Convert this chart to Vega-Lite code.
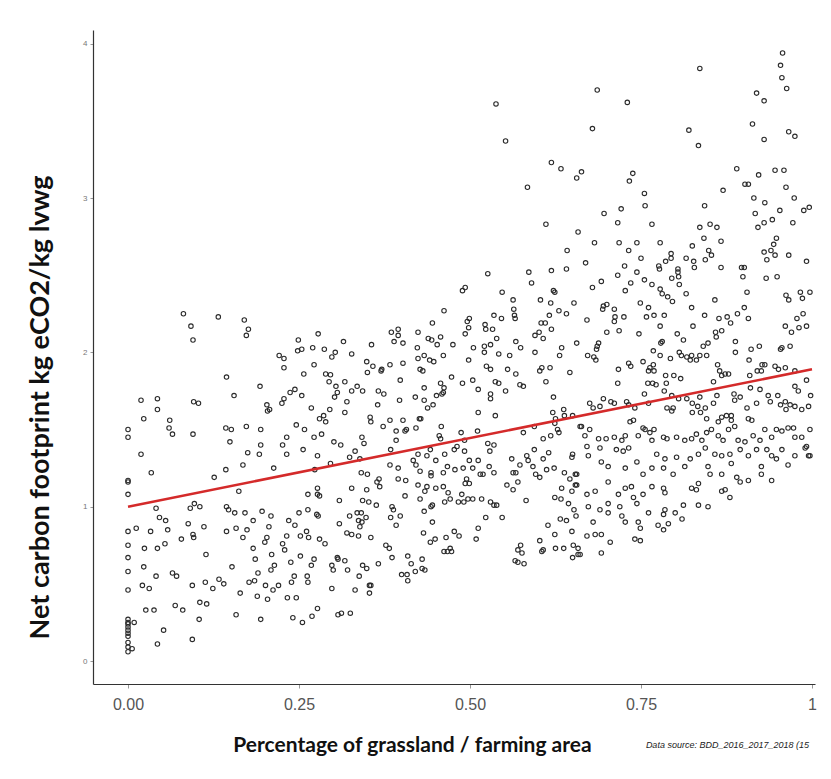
{
"$schema": "https://vega.github.io/schema/vega-lite/v6.json",
"width": 722, "height": 654,
"autosize": {"type": "none"},
"padding": {"left": 93, "top": 30, "right": 16, "bottom": 95},
"background": "white",
"config": {"view": {"stroke": null}, "axis": {"grid": false}},
"title": {"text": "Data source: BDD_2016_2017_2018 (15", "orient": "bottom", "anchor": "end", "frame": "group", "fontSize": 9, "fontStyle": "italic", "fontWeight": "normal", "font": "Liberation Sans", "color": "#222", "offset": -14, "dx": -6},
"datasets": {
"fit": [{"x": 0, "y": 1.0}, {"x": 1, "y": 1.89}],
"pts": [
{"x":0,"y":1.50},{"x":0,"y":1.45},{"x":0,"y":1.17},{"x":0,"y":1.16},{"x":0,"y":1.08},{"x":0,"y":0.84},{"x":0,"y":0.75},{"x":0,"y":0.67},{"x":0,"y":0.58},{"x":0,"y":0.46},{"x":0,"y":0.27},{"x":0,"y":0.25},{"x":0,"y":0.24},{"x":0,"y":0.22},{"x":0,"y":0.20},{"x":0,"y":0.18},{"x":0,"y":0.16},{"x":0,"y":0.09},{"x":0,"y":0.06},{"x":0,"y":0.12},
{"x":0.081,"y":2.25},{"x":0.132,"y":2.23},{"x":0.170,"y":2.21},{"x":0.092,"y":2.17},{"x":0.176,"y":2.15},{"x":0.095,"y":2.08},{"x":0.173,"y":2.11},{"x":0.278,"y":2.12},{"x":0.249,"y":2.08},{"x":0.248,"y":2.01},{"x":0.254,"y":2.02},{"x":0.270,"y":2.03},{"x":0.287,"y":2.02},{"x":0.303,"y":2.00},{"x":0.298,"y":1.97},{"x":0.221,"y":1.98},{"x":0.228,"y":1.96},{"x":0.228,"y":1.90},{"x":0.272,"y":1.92},{"x":0.257,"y":1.86},{"x":0.289,"y":1.86},{"x":0.296,"y":1.855},{"x":0.294,"y":1.81},{"x":0.304,"y":1.78},{"x":0.144,"y":1.84},{"x":0.193,"y":1.78},{"x":0.155,"y":1.72},{"x":0.244,"y":1.76},{"x":0.237,"y":1.74},{"x":0.254,"y":1.72},{"x":0.306,"y":1.74},{"x":0.302,"y":1.71},{"x":0.228,"y":1.70},{"x":0.225,"y":1.67},{"x":0.019,"y":1.69},{"x":0.043,"y":1.70},{"x":0.043,"y":1.63},{"x":0.096,"y":1.68},{"x":0.103,"y":1.67},{"x":0.203,"y":1.66},{"x":0.207,"y":1.63},{"x":0.204,"y":1.62},{"x":0.268,"y":1.64},{"x":0.295,"y":1.63},{"x":0.286,"y":1.59},{"x":0.280,"y":1.57},{"x":0.289,"y":1.55},{"x":0.023,"y":1.57},{"x":0.061,"y":1.56},{"x":0.060,"y":1.51},{"x":0.143,"y":1.51},{"x":0.151,"y":1.50},{"x":0.173,"y":1.52},{"x":0.194,"y":1.50},{"x":0.246,"y":1.53},{"x":0.258,"y":1.50},
{"x":0.065,"y":1.47},{"x":0.095,"y":1.47},{"x":0.149,"y":1.42},{"x":0.194,"y":1.40},{"x":0.192,"y":1.34},{"x":0.175,"y":1.35},{"x":0.168,"y":1.27},{"x":0.213,"y":1.25},{"x":0.143,"y":1.24},{"x":0.126,"y":1.19},{"x":0.162,"y":1.10},{"x":0.019,"y":1.34},{"x":0.034,"y":1.22},{"x":0.232,"y":1.45},{"x":0.226,"y":1.40},{"x":0.232,"y":1.34},{"x":0.272,"y":1.45},{"x":0.283,"y":1.47},{"x":0.256,"y":1.37},{"x":0.277,"y":1.33},{"x":0.301,"y":1.42},{"x":0.296,"y":1.28},{"x":0.273,"y":1.24},{"x":0.263,"y":1.08},{"x":0.277,"y":1.12},{"x":0.277,"y":1.08},{"x":0.280,"y":1.07},{"x":0.309,"y":1.04},{"x":0.041,"y":0.99},{"x":0.091,"y":0.99},{"x":0.097,"y":1.02},{"x":0.105,"y":1.00},{"x":0.144,"y":1.00},{"x":0.147,"y":0.98},{"x":0.156,"y":0.96},{"x":0.171,"y":0.96},{"x":0.183,"y":0.91},{"x":0.196,"y":0.97},{"x":0.209,"y":0.94},{"x":0.250,"y":0.96},{"x":0.263,"y":0.98},{"x":0.276,"y":0.95},{"x":0.278,"y":0.94},{"x":0.235,"y":0.91},{"x":0.244,"y":0.88},{"x":0.309,"y":0.89},{"x":0.012,"y":0.86},{"x":0.046,"y":0.93},{"x":0.055,"y":0.91},{"x":0.058,"y":0.85},{"x":0.033,"y":0.84},{"x":0.088,"y":0.89},{"x":0.111,"y":0.87},{"x":0.095,"y":0.82},{"x":0.096,"y":0.80},{"x":0.078,"y":0.79},{"x":0.144,"y":0.84},{"x":0.158,"y":0.86},{"x":0.168,"y":0.80},{"x":0.174,"y":0.85},{"x":0.183,"y":0.73},{"x":0.186,"y":0.66},{"x":0.190,"y":0.57},{"x":0.206,"y":0.87},{"x":0.203,"y":0.80},{"x":0.200,"y":0.77},{"x":0.210,"y":0.69},{"x":0.214,"y":0.62},{"x":0.209,"y":0.59},{"x":0.226,"y":0.76},{"x":0.232,"y":0.81},{"x":0.229,"y":0.72},{"x":0.252,"y":0.81},{"x":0.264,"y":0.80},{"x":0.261,"y":0.84},{"x":0.280,"y":0.79},{"x":0.288,"y":0.76},{"x":0.238,"y":0.64},{"x":0.252,"y":0.68},{"x":0.268,"y":0.62},{"x":0.272,"y":0.66},{"x":0.306,"y":0.67},{"x":0.298,"y":0.62},{"x":0.300,"y":0.59},{"x":0.024,"y":0.73},{"x":0.043,"y":0.73},{"x":0.054,"y":0.76},{"x":0.114,"y":0.69},{"x":0.023,"y":0.61},{"x":0.041,"y":0.55},{"x":0.065,"y":0.57},{"x":0.071,"y":0.55},{"x":0.021,"y":0.49},{"x":0.031,"y":0.47},{"x":0.094,"y":0.49},{"x":0.113,"y":0.51},{"x":0.124,"y":0.47},{"x":0.133,"y":0.53},{"x":0.140,"y":0.50},{"x":0.152,"y":0.61},{"x":0.164,"y":0.44},{"x":0.177,"y":0.51},{"x":0.185,"y":0.52},{"x":0.201,"y":0.49},{"x":0.212,"y":0.46},{"x":0.220,"y":0.49},{"x":0.189,"y":0.42},{"x":0.204,"y":0.40},{"x":0.233,"y":0.41},{"x":0.246,"y":0.41},{"x":0.262,"y":0.55},{"x":0.263,"y":0.51},{"x":0.243,"y":0.55},{"x":0.239,"y":0.51},{"x":0.298,"y":0.47},{"x":0.069,"y":0.36},{"x":0.080,"y":0.33},{"x":0.026,"y":0.33},{"x":0.038,"y":0.33},{"x":0.105,"y":0.38},{"x":0.115,"y":0.37},{"x":0.104,"y":0.27},{"x":0.158,"y":0.30},{"x":0.194,"y":0.27},{"x":0.241,"y":0.28},{"x":0.255,"y":0.25},{"x":0.269,"y":0.29},{"x":0.277,"y":0.34},{"x":0.307,"y":0.30},{"x":0.009,"y":0.25},{"x":0.052,"y":0.20},{"x":0.043,"y":0.11},{"x":0.094,"y":0.14},{"x":0.006,"y":0.08},
{"x":0.538,"y":3.61},{"x":0.552,"y":3.37},{"x":0.619,"y":3.23},{"x":0.633,"y":3.19},{"x":0.656,"y":3.13},{"x":0.584,"y":3.07},{"x":0.611,"y":2.83},{"x":0.658,"y":2.78},{"x":0.642,"y":2.66},{"x":0.586,"y":2.52},{"x":0.619,"y":2.53},{"x":0.641,"y":2.54},{"x":0.526,"y":2.51},{"x":0.590,"y":2.45},{"x":0.622,"y":2.40},{"x":0.624,"y":2.39},{"x":0.489,"y":2.40},{"x":0.493,"y":2.42},{"x":0.547,"y":2.39},{"x":0.563,"y":2.34},{"x":0.603,"y":2.34},{"x":0.618,"y":2.32},{"x":0.652,"y":2.32},{"x":0.564,"y":2.28},{"x":0.565,"y":2.24},{"x":0.566,"y":2.22},{"x":0.630,"y":2.27},{"x":0.641,"y":2.25},{"x":0.616,"y":2.24},{"x":0.462,"y":2.27},{"x":0.445,"y":2.19},{"x":0.496,"y":2.20},{"x":0.499,"y":2.22},{"x":0.498,"y":2.16},{"x":0.535,"y":2.24},{"x":0.546,"y":2.22},{"x":0.522,"y":2.18},{"x":0.523,"y":2.15},{"x":0.533,"y":2.15},{"x":0.604,"y":2.19},{"x":0.610,"y":2.19},{"x":0.619,"y":2.15},{"x":0.595,"y":2.11},{"x":0.601,"y":2.13},{"x":0.607,"y":2.09},{"x":0.385,"y":2.13},{"x":0.395,"y":2.15},{"x":0.395,"y":2.11},{"x":0.389,"y":2.07},{"x":0.402,"y":2.06},{"x":0.424,"y":2.13},{"x":0.423,"y":2.03},{"x":0.439,"y":2.09},{"x":0.444,"y":2.08},{"x":0.457,"y":2.10},{"x":0.452,"y":2.05},{"x":0.493,"y":2.12},{"x":0.475,"y":2.05},{"x":0.505,"y":2.03},{"x":0.521,"y":2.04},{"x":0.521,"y":2.00},{"x":0.530,"y":2.05},{"x":0.539,"y":2.09},{"x":0.567,"y":2.07},{"x":0.574,"y":2.03},{"x":0.634,"y":2.03},{"x":0.631,"y":1.98},{"x":0.656,"y":2.06},{"x":0.595,"y":2.00},{"x":0.315,"y":2.07},{"x":0.356,"y":2.05},{"x":0.327,"y":1.99},{"x":0.349,"y":1.94},{"x":0.358,"y":1.91},{"x":0.371,"y":1.89},{"x":0.383,"y":1.92},{"x":0.402,"y":1.93},{"x":0.424,"y":1.96},{"x":0.433,"y":1.98},{"x":0.441,"y":1.95},{"x":0.447,"y":1.94},{"x":0.461,"y":1.98},{"x":0.498,"y":1.95},{"x":0.542,"y":1.99},{"x":0.558,"y":1.98},{"x":0.524,"y":1.91},{"x":0.530,"y":1.89},{"x":0.555,"y":1.89},{"x":0.605,"y":1.90},{"x":0.617,"y":1.90},
{"x":0.350,"y":1.87},{"x":0.370,"y":1.88},{"x":0.427,"y":1.89},{"x":0.431,"y":1.88},{"x":0.473,"y":1.84},{"x":0.398,"y":1.82},{"x":0.457,"y":1.80},{"x":0.462,"y":1.77},{"x":0.461,"y":1.74},{"x":0.489,"y":1.80},{"x":0.504,"y":1.82},{"x":0.512,"y":1.76},{"x":0.537,"y":1.81},{"x":0.542,"y":1.80},{"x":0.567,"y":1.86},{"x":0.573,"y":1.79},{"x":0.578,"y":1.78},{"x":0.552,"y":1.75},{"x":0.602,"y":1.88},{"x":0.611,"y":1.81},{"x":0.646,"y":1.87},{"x":0.317,"y":1.81},{"x":0.327,"y":1.75},{"x":0.335,"y":1.78},{"x":0.343,"y":1.75},{"x":0.320,"y":1.68},{"x":0.317,"y":1.61},{"x":0.366,"y":1.75},{"x":0.374,"y":1.73},{"x":0.365,"y":1.66},{"x":0.397,"y":1.69},{"x":0.420,"y":1.71},{"x":0.433,"y":1.77},{"x":0.433,"y":1.69},{"x":0.438,"y":1.64},{"x":0.446,"y":1.66},{"x":0.451,"y":1.72},{"x":0.459,"y":1.73},{"x":0.354,"y":1.58},{"x":0.355,"y":1.55},{"x":0.373,"y":1.52},{"x":0.383,"y":1.56},{"x":0.392,"y":1.49},{"x":0.392,"y":1.43},{"x":0.402,"y":1.56},{"x":0.405,"y":1.49},{"x":0.407,"y":1.50},{"x":0.421,"y":1.51},{"x":0.426,"y":1.57},{"x":0.428,"y":1.57},{"x":0.458,"y":1.52},{"x":0.455,"y":1.46},{"x":0.457,"y":1.44},{"x":0.487,"y":1.48},{"x":0.492,"y":1.43},{"x":0.511,"y":1.49},{"x":0.512,"y":1.61},{"x":0.530,"y":1.73},{"x":0.530,"y":1.70},{"x":0.537,"y":1.59},{"x":0.526,"y":1.41},{"x":0.535,"y":1.40},{"x":0.529,"y":1.36},{"x":0.578,"y":1.48},{"x":0.594,"y":1.52},{"x":0.607,"y":1.44},{"x":0.618,"y":1.46},{"x":0.621,"y":1.61},{"x":0.625,"y":1.57},{"x":0.637,"y":1.63},{"x":0.638,"y":1.59},{"x":0.622,"y":1.71},{"x":0.624,"y":1.54},{"x":0.628,"y":1.50},{"x":0.630,"y":1.48},{"x":0.650,"y":1.59},{"x":0.661,"y":1.52},{"x":0.342,"y":1.45},{"x":0.345,"y":1.41},{"x":0.332,"y":1.36},{"x":0.324,"y":1.32},{"x":0.339,"y":1.31},{"x":0.311,"y":1.40},{"x":0.384,"y":1.37},{"x":0.383,"y":1.27},{"x":0.395,"y":1.25},{"x":0.417,"y":1.30},{"x":0.421,"y":1.27},{"x":0.424,"y":1.34},{"x":0.437,"y":1.33},{"x":0.442,"y":1.37},{"x":0.427,"y":1.23},{"x":0.443,"y":1.22},{"x":0.443,"y":1.20},{"x":0.450,"y":1.30},{"x":0.463,"y":1.34},{"x":0.477,"y":1.37},{"x":0.481,"y":1.39},{"x":0.492,"y":1.36},{"x":0.461,"y":1.22},{"x":0.467,"y":1.26},{"x":0.478,"y":1.24},{"x":0.490,"y":1.25},{"x":0.499,"y":1.30},{"x":0.504,"y":1.25},{"x":0.512,"y":1.30},{"x":0.528,"y":1.26},{"x":0.535,"y":1.22},{"x":0.515,"y":1.21},{"x":0.519,"y":1.21},{"x":0.495,"y":1.18},{"x":0.493,"y":1.15},{"x":0.499,"y":1.15},{"x":0.561,"y":1.31},{"x":0.573,"y":1.27},{"x":0.583,"y":1.33},{"x":0.585,"y":1.30},{"x":0.594,"y":1.37},{"x":0.592,"y":1.26},{"x":0.596,"y":1.21},{"x":0.602,"y":1.19},{"x":0.607,"y":1.31},{"x":0.612,"y":1.24},{"x":0.615,"y":1.35},{"x":0.623,"y":1.25},{"x":0.563,"y":1.22},{"x":0.567,"y":1.22},{"x":0.554,"y":1.14},{"x":0.563,"y":1.11},{"x":0.570,"y":1.16},{"x":0.582,"y":1.04},{"x":0.638,"y":1.22},{"x":0.646,"y":1.18},{"x":0.654,"y":1.21},{"x":0.649,"y":1.32},{"x":0.650,"y":1.34},{"x":0.634,"y":1.12},{"x":0.649,"y":1.10},{"x":0.654,"y":1.14},{"x":0.624,"y":1.06},{"x":0.633,"y":1.05},{"x":0.644,"y":1.02},{"x":0.652,"y":0.98},{"x":0.655,"y":0.94},{"x":0.632,"y":0.92},{"x":0.641,"y":0.91},{"x":0.614,"y":0.88},{"x":0.624,"y":0.82},{"x":0.625,"y":0.73},{"x":0.637,"y":0.73},{"x":0.649,"y":0.84},{"x":0.651,"y":0.75},{"x":0.650,"y":0.67},{"x":0.661,"y":0.69},{"x":0.602,"y":0.78},{"x":0.607,"y":0.72},{"x":0.605,"y":0.71},{"x":0.574,"y":0.75},{"x":0.570,"y":0.72},{"x":0.576,"y":0.70},{"x":0.566,"y":0.65},{"x":0.570,"y":0.64},{"x":0.579,"y":0.63},{"x":0.523,"y":0.93},{"x":0.530,"y":1.03},{"x":0.535,"y":1.01},{"x":0.539,"y":1.01},{"x":0.547,"y":0.93},{"x":0.512,"y":0.86},{"x":0.509,"y":0.79},{"x":0.488,"y":1.08},{"x":0.483,"y":1.03},{"x":0.491,"y":1.03},{"x":0.497,"y":1.05},{"x":0.504,"y":1.05},{"x":0.517,"y":1.05},{"x":0.477,"y":0.84},{"x":0.484,"y":0.81},{"x":0.465,"y":0.80},{"x":0.471,"y":0.73},{"x":0.473,"y":0.71},{"x":0.467,"y":0.71},{"x":0.462,"y":0.71},{"x":0.449,"y":0.79},{"x":0.442,"y":0.77},{"x":0.432,"y":0.83},{"x":0.445,"y":0.90},{"x":0.433,"y":0.97},{"x":0.443,"y":1.00},{"x":0.445,"y":1.01},{"x":0.463,"y":1.03},{"x":0.471,"y":1.05},{"x":0.424,"y":1.14},{"x":0.437,"y":1.13},{"x":0.450,"y":1.12},{"x":0.461,"y":1.13},{"x":0.468,"y":1.09},{"x":0.434,"y":1.10},{"x":0.427,"y":1.05},{"x":0.405,"y":1.07},{"x":0.395,"y":1.18},{"x":0.406,"y":1.17},{"x":0.367,"y":1.18},{"x":0.364,"y":1.16},{"x":0.368,"y":1.13},{"x":0.349,"y":1.11},{"x":0.343,"y":1.04},{"x":0.352,"y":1.03},{"x":0.341,"y":1.22},{"x":0.350,"y":1.21},{"x":0.327,"y":1.12},{"x":0.363,"y":1.01},{"x":0.386,"y":1.00},{"x":0.388,"y":0.98},{"x":0.398,"y":0.94},{"x":0.384,"y":0.93},{"x":0.392,"y":0.88},{"x":0.324,"y":0.94},{"x":0.335,"y":0.96},{"x":0.341,"y":0.96},{"x":0.337,"y":0.91},{"x":0.342,"y":0.90},{"x":0.348,"y":0.93},{"x":0.320,"y":0.83},{"x":0.327,"y":0.82},{"x":0.337,"y":0.81},{"x":0.339,"y":0.87},{"x":0.355,"y":0.80},{"x":0.377,"y":0.75},{"x":0.382,"y":0.73},{"x":0.386,"y":0.67},{"x":0.366,"y":0.63},{"x":0.343,"y":0.62},{"x":0.349,"y":0.60},{"x":0.307,"y":0.66},{"x":0.317,"y":0.65},{"x":0.321,"y":0.59},{"x":0.338,"y":0.55},{"x":0.353,"y":0.49},{"x":0.355,"y":0.49},{"x":0.353,"y":0.44},{"x":0.332,"y":0.46},{"x":0.312,"y":0.31},{"x":0.325,"y":0.31},{"x":0.409,"y":0.68},{"x":0.414,"y":0.63},{"x":0.420,"y":0.58},{"x":0.430,"y":0.66},{"x":0.430,"y":0.60},{"x":0.434,"y":0.59},{"x":0.400,"y":0.56},{"x":0.408,"y":0.56},{"x":0.409,"y":0.52},
{"x":0.957,"y":3.94},{"x":0.954,"y":3.86},{"x":0.956,"y":3.78},{"x":0.963,"y":3.71},{"x":0.836,"y":3.84},{"x":0.919,"y":3.68},{"x":0.930,"y":3.63},{"x":0.686,"y":3.70},{"x":0.730,"y":3.62},{"x":0.679,"y":3.45},{"x":0.820,"y":3.44},{"x":0.834,"y":3.34},{"x":0.913,"y":3.48},{"x":0.930,"y":3.38},{"x":0.966,"y":3.43},{"x":0.975,"y":3.40},{"x":0.890,"y":3.19},{"x":0.946,"y":3.18},{"x":0.959,"y":3.18},{"x":0.922,"y":3.15},{"x":0.962,"y":3.07},{"x":0.902,"y":3.09},{"x":0.907,"y":3.09},{"x":0.870,"y":3.05},{"x":0.915,"y":3.00},{"x":0.931,"y":2.97},{"x":0.974,"y":3.00},{"x":0.663,"y":3.17},{"x":0.733,"y":3.11},{"x":0.738,"y":3.16},{"x":0.755,"y":3.03},{"x":0.756,"y":2.95},{"x":0.843,"y":2.95},{"x":0.917,"y":2.90},{"x":0.921,"y":2.81},{"x":0.930,"y":2.84},{"x":0.942,"y":2.86},{"x":0.953,"y":2.92},{"x":0.972,"y":2.84},{"x":0.988,"y":2.92},{"x":0.996,"y":2.94},{"x":0.696,"y":2.90},{"x":0.721,"y":2.93},{"x":0.716,"y":2.84},{"x":0.766,"y":2.83},{"x":0.836,"y":2.81},{"x":0.851,"y":2.83},{"x":0.861,"y":2.81},{"x":0.842,"y":2.74},{"x":0.867,"y":2.72},{"x":0.825,"y":2.69},{"x":0.948,"y":2.74},{"x":0.944,"y":2.70},{"x":0.930,"y":2.65},{"x":0.940,"y":2.66},{"x":0.946,"y":2.63},{"x":0.934,"y":2.60},{"x":0.966,"y":2.63},{"x":0.992,"y":2.59},{"x":0.682,"y":2.71},{"x":0.718,"y":2.71},{"x":0.744,"y":2.71},{"x":0.732,"y":2.66},{"x":0.778,"y":2.71},{"x":0.669,"y":2.58},{"x":0.750,"y":2.61},{"x":0.776,"y":2.56},{"x":0.777,"y":2.54},{"x":0.786,"y":2.59},{"x":0.794,"y":2.64},{"x":0.794,"y":2.61},{"x":0.804,"y":2.54},{"x":0.816,"y":2.61},{"x":0.827,"y":2.59},{"x":0.828,"y":2.55},{"x":0.844,"y":2.60},{"x":0.849,"y":2.66},{"x":0.853,"y":2.63},{"x":0.867,"y":2.55},{"x":0.897,"y":2.55},{"x":0.901,"y":2.55},{"x":0.899,"y":2.49},{"x":0.905,"y":2.39},{"x":0.933,"y":2.48},{"x":0.949,"y":2.49},{"x":0.716,"y":2.50},{"x":0.726,"y":2.56},{"x":0.744,"y":2.52},{"x":0.755,"y":2.47},{"x":0.766,"y":2.44},{"x":0.679,"y":2.42},{"x":0.692,"y":2.46},{"x":0.735,"y":2.45},{"x":0.727,"y":2.40},{"x":0.778,"y":2.41},{"x":0.781,"y":2.38},{"x":0.789,"y":2.36},{"x":0.796,"y":2.33},{"x":0.804,"y":2.52},{"x":0.805,"y":2.49},{"x":0.806,"y":2.44},{"x":0.795,"y":2.48},{"x":0.816,"y":2.38},{"x":0.695,"y":2.30},{"x":0.700,"y":2.31},{"x":0.694,"y":2.28},{"x":0.711,"y":2.28},{"x":0.712,"y":2.23},{"x":0.711,"y":2.20},{"x":0.725,"y":2.23},{"x":0.718,"y":2.14},{"x":0.700,"y":2.13},{"x":0.671,"y":2.21},{"x":0.749,"y":2.32},{"x":0.761,"y":2.29},{"x":0.758,"y":2.23},{"x":0.769,"y":2.24},{"x":0.784,"y":2.24},{"x":0.778,"y":2.17},{"x":0.747,"y":2.12},{"x":0.824,"y":2.29},{"x":0.826,"y":2.17},{"x":0.843,"y":2.24},{"x":0.858,"y":2.34},{"x":0.864,"y":2.22},{"x":0.876,"y":2.23},{"x":0.881,"y":2.19},{"x":0.891,"y":2.25},{"x":0.901,"y":2.29},{"x":0.907,"y":2.22},{"x":0.962,"y":2.37},{"x":0.966,"y":2.34},{"x":0.983,"y":2.39},{"x":0.986,"y":2.35},{"x":0.997,"y":2.39},{"x":0.987,"y":2.25},{"x":0.978,"y":2.22},{"x":0.961,"y":2.17},{"x":0.970,"y":2.13},{"x":0.981,"y":2.16},{"x":0.992,"y":2.17},{"x":0.859,"y":2.13},{"x":0.868,"y":2.14},{"x":0.860,"y":2.10},{"x":0.888,"y":2.07},{"x":0.803,"y":2.12},{"x":0.812,"y":2.08},{"x":0.779,"y":2.06},{"x":0.781,"y":2.07},{"x":0.841,"y":2.04},{"x":0.848,"y":2.06},{"x":0.911,"y":2.02},{"x":0.923,"y":2.04},{"x":0.956,"y":2.03},{"x":0.968,"y":2.04},{"x":0.686,"y":2.04},{"x":0.688,"y":2.06},
{"x":0.685,"y":2.02},{"x":0.684,"y":1.95},{"x":0.681,"y":1.97},{"x":0.672,"y":1.98},{"x":0.717,"y":1.89},{"x":0.716,"y":1.80},{"x":0.732,"y":1.93},{"x":0.735,"y":1.91},{"x":0.753,"y":1.94},{"x":0.761,"y":1.88},{"x":0.763,"y":1.90},{"x":0.769,"y":1.88},{"x":0.768,"y":1.92},{"x":0.760,"y":1.80},{"x":0.767,"y":1.80},{"x":0.772,"y":1.79},{"x":0.786,"y":1.85},{"x":0.787,"y":1.80},{"x":0.798,"y":1.85},{"x":0.808,"y":1.83},{"x":0.768,"y":2.01},{"x":0.778,"y":1.98},{"x":0.793,"y":1.96},{"x":0.806,"y":2.00},{"x":0.809,"y":1.98},{"x":0.817,"y":1.97},{"x":0.824,"y":1.98},{"x":0.822,"y":1.95},{"x":0.831,"y":1.95},{"x":0.836,"y":1.98},{"x":0.846,"y":1.98},{"x":0.862,"y":1.92},{"x":0.865,"y":1.88},{"x":0.873,"y":1.86},{"x":0.878,"y":1.86},{"x":0.888,"y":2.00},{"x":0.908,"y":1.95},{"x":0.926,"y":1.88},{"x":0.920,"y":1.88},{"x":0.927,"y":1.92},{"x":0.931,"y":1.92},{"x":0.946,"y":1.91},{"x":0.951,"y":1.89},{"x":0.961,"y":1.90},{"x":0.954,"y":2.02},{"x":0.975,"y":1.88},{"x":0.909,"y":1.85},
{"x":0.675,"y":1.67},{"x":0.680,"y":1.64},{"x":0.690,"y":1.65},{"x":0.695,"y":1.70},{"x":0.706,"y":1.68},{"x":0.711,"y":1.67},{"x":0.729,"y":1.68},{"x":0.732,"y":1.66},{"x":0.741,"y":1.64},{"x":0.755,"y":1.73},{"x":0.761,"y":1.67},{"x":0.784,"y":1.75},{"x":0.795,"y":1.72},{"x":0.805,"y":1.70},{"x":0.788,"y":1.64},{"x":0.797,"y":1.64},{"x":0.795,"y":1.62},{"x":0.817,"y":1.70},{"x":0.825,"y":1.67},{"x":0.836,"y":1.71},{"x":0.833,"y":1.65},{"x":0.844,"y":1.64},{"x":0.837,"y":1.61},{"x":0.846,"y":1.57},{"x":0.825,"y":1.61},{"x":0.856,"y":1.67},{"x":0.856,"y":1.81},{"x":0.861,"y":1.72},{"x":0.868,"y":1.85},{"x":0.886,"y":1.73},{"x":0.887,"y":1.69},{"x":0.895,"y":1.71},{"x":0.910,"y":1.77},{"x":0.924,"y":1.76},{"x":0.936,"y":1.72},{"x":0.939,"y":1.68},{"x":0.919,"y":1.67},{"x":0.905,"y":1.64},{"x":0.950,"y":1.72},{"x":0.954,"y":1.66},{"x":0.962,"y":1.63},{"x":0.975,"y":1.65},{"x":0.985,"y":1.63},{"x":0.995,"y":1.65},{"x":0.998,"y":1.72},{"x":0.992,"y":1.82},{"x":0.975,"y":1.78},{"x":0.980,"y":1.75},{"x":0.961,"y":1.68},{"x":0.968,"y":1.66},{"x":0.907,"y":1.57},{"x":0.912,"y":1.56},{"x":0.882,"y":1.56},{"x":0.882,"y":1.59},{"x":0.875,"y":1.59},{"x":0.868,"y":1.58},{"x":0.863,"y":1.55},
{"x":0.663,"y":1.52},{"x":0.668,"y":1.46},{"x":0.675,"y":1.50},{"x":0.688,"y":1.44},{"x":0.699,"y":1.44},{"x":0.711,"y":1.45},{"x":0.722,"y":1.43},{"x":0.727,"y":1.46},{"x":0.734,"y":1.55},{"x":0.739,"y":1.56},{"x":0.746,"y":1.46},{"x":0.753,"y":1.51},{"x":0.756,"y":1.50},{"x":0.763,"y":1.48},{"x":0.766,"y":1.43},{"x":0.769,"y":1.50},{"x":0.783,"y":1.45},{"x":0.788,"y":1.44},{"x":0.802,"y":1.45},{"x":0.814,"y":1.43},{"x":0.824,"y":1.44},{"x":0.831,"y":1.47},{"x":0.839,"y":1.43},{"x":0.846,"y":1.48},{"x":0.853,"y":1.50},{"x":0.863,"y":1.46},{"x":0.870,"y":1.43},{"x":0.878,"y":1.50},{"x":0.887,"y":1.52},{"x":0.892,"y":1.43},{"x":0.902,"y":1.42},{"x":0.914,"y":1.46},{"x":0.924,"y":1.43},{"x":0.931,"y":1.50},{"x":0.941,"y":1.45},{"x":0.948,"y":1.50},{"x":0.956,"y":1.49},{"x":0.965,"y":1.51},{"x":0.973,"y":1.51},{"x":0.975,"y":1.45},{"x":0.985,"y":1.45},{"x":0.997,"y":1.50},{"x":0.992,"y":1.39},{"x":0.995,"y":1.33},
{"x":0.671,"y":1.39},{"x":0.673,"y":1.33},{"x":0.690,"y":1.38},{"x":0.692,"y":1.29},{"x":0.702,"y":1.26},{"x":0.714,"y":1.37},{"x":0.724,"y":1.36},{"x":0.727,"y":1.25},{"x":0.732,"y":1.38},{"x":0.744,"y":1.29},{"x":0.753,"y":1.21},{"x":0.766,"y":1.25},{"x":0.773,"y":1.34},{"x":0.783,"y":1.25},{"x":0.785,"y":1.31},{"x":0.797,"y":1.21},{"x":0.802,"y":1.32},{"x":0.814,"y":1.26},{"x":0.822,"y":1.31},{"x":0.834,"y":1.34},{"x":0.844,"y":1.38},{"x":0.848,"y":1.26},{"x":0.858,"y":1.34},{"x":0.868,"y":1.33},{"x":0.880,"y":1.34},{"x":0.882,"y":1.28},{"x":0.890,"y":1.19},{"x":0.895,"y":1.37},{"x":0.907,"y":1.33},{"x":0.919,"y":1.37},{"x":0.926,"y":1.26},{"x":0.934,"y":1.37},{"x":0.941,"y":1.33},{"x":0.948,"y":1.31},{"x":0.956,"y":1.37},{"x":0.965,"y":1.27},{"x":0.975,"y":1.33},{"x":0.990,"y":1.38},{"x":0.997,"y":1.33},{"x":0.926,"y":1.21},{"x":0.941,"y":1.17},{"x":0.907,"y":1.17},{"x":0.895,"y":1.16},{"x":0.868,"y":1.21},{"x":0.851,"y":1.21},
{"x":0.656,"y":1.21},{"x":0.656,"y":1.14},{"x":0.671,"y":1.08},{"x":0.683,"y":1.10},{"x":0.702,"y":1.16},{"x":0.717,"y":1.08},{"x":0.727,"y":1.12},{"x":0.736,"y":1.13},{"x":0.744,"y":1.02},{"x":0.739,"y":1.06},{"x":0.753,"y":1.08},{"x":0.673,"y":1.00},{"x":0.680,"y":0.90},{"x":0.690,"y":0.98},{"x":0.702,"y":1.02},{"x":0.702,"y":0.96},{"x":0.719,"y":1.00},{"x":0.722,"y":0.94},{"x":0.727,"y":0.90},{"x":0.746,"y":0.90},{"x":0.749,"y":0.86},{"x":0.761,"y":0.96},{"x":0.766,"y":1.13},{"x":0.783,"y":1.12},{"x":0.785,"y":1.09},{"x":0.785,"y":0.98},{"x":0.783,"y":0.95},{"x":0.800,"y":0.96},{"x":0.810,"y":0.92},{"x":0.812,"y":1.01},{"x":0.775,"y":0.88},{"x":0.790,"y":0.89},{"x":0.824,"y":1.12},{"x":0.834,"y":1.15},{"x":0.831,"y":1.11},{"x":0.834,"y":1.01},{"x":0.848,"y":1.00},{"x":0.868,"y":1.10},{"x":0.873,"y":1.11},{"x":0.880,"y":1.06},{"x":0.671,"y":0.81},{"x":0.683,"y":0.82},{"x":0.692,"y":0.82},{"x":0.705,"y":0.77},{"x":0.741,"y":0.79},{"x":0.749,"y":0.78},{"x":0.658,"y":0.73},{"x":0.658,"y":0.69},{"x":0.692,"y":0.70},{"x":0.783,"y":0.85}
]},
"layer": [
{"data": {"name": "pts"},
 "mark": {"type": "point", "shape": "circle", "filled": false, "size": 20, "strokeWidth": 1.1, "color": "#2b2b2b", "opacity": 1},
 "encoding": {
  "x": {"field": "x", "type": "quantitative",
   "scale": {"domain": [-0.0512, 1.0044], "nice": false, "zero": false},
   "axis": {"title": "Percentage of grassland / farming area", "values": [0, 0.25, 0.5, 0.75, 1],
    "labelExpr": "datum.value == 1 ? '1' : format(datum.value, '.2f')",
    "labelFontSize": 16, "labelColor": "#555", "labelFont": "Liberation Sans", "labelPadding": 8,
    "tickSize": 4, "tickColor": "#999", "domainColor": "#333", "domainWidth": 1.2,
    "titleFontSize": 21, "titleFont": "Lato", "titleFontWeight": "bold", "titleColor": "#111",
    "titleX": 319, "titleY": 61, "titleAlign": "center", "titleBaseline": "middle"}},
  "y": {"field": "y", "type": "quantitative",
   "scale": {"domain": [-0.149, 4.089], "nice": false, "zero": false},
   "axis": {"title": "Net carbon footprint kg eCO2/kg lvwg", "values": [0, 1, 2, 3, 4], "format": "d",
    "labelFontSize": 8, "labelColor": "#777", "labelFont": "Liberation Sans", "labelPadding": 3,
    "tickSize": 3, "tickColor": "#999", "domainColor": "#333", "domainWidth": 1.2,
    "titleFontSize": 27, "titleFont": "Lato", "titleFontWeight": "bold", "titleColor": "#111",
    "titleAngle": 270, "titleX": -53, "titleY": 377, "titleAlign": "center", "titleBaseline": "middle"}}
 }},
{"data": {"name": "fit"},
 "mark": {"type": "line", "color": "#d42a2a", "strokeWidth": 2.5},
 "encoding": {"x": {"field": "x", "type": "quantitative"}, "y": {"field": "y", "type": "quantitative"}}}
]
}
